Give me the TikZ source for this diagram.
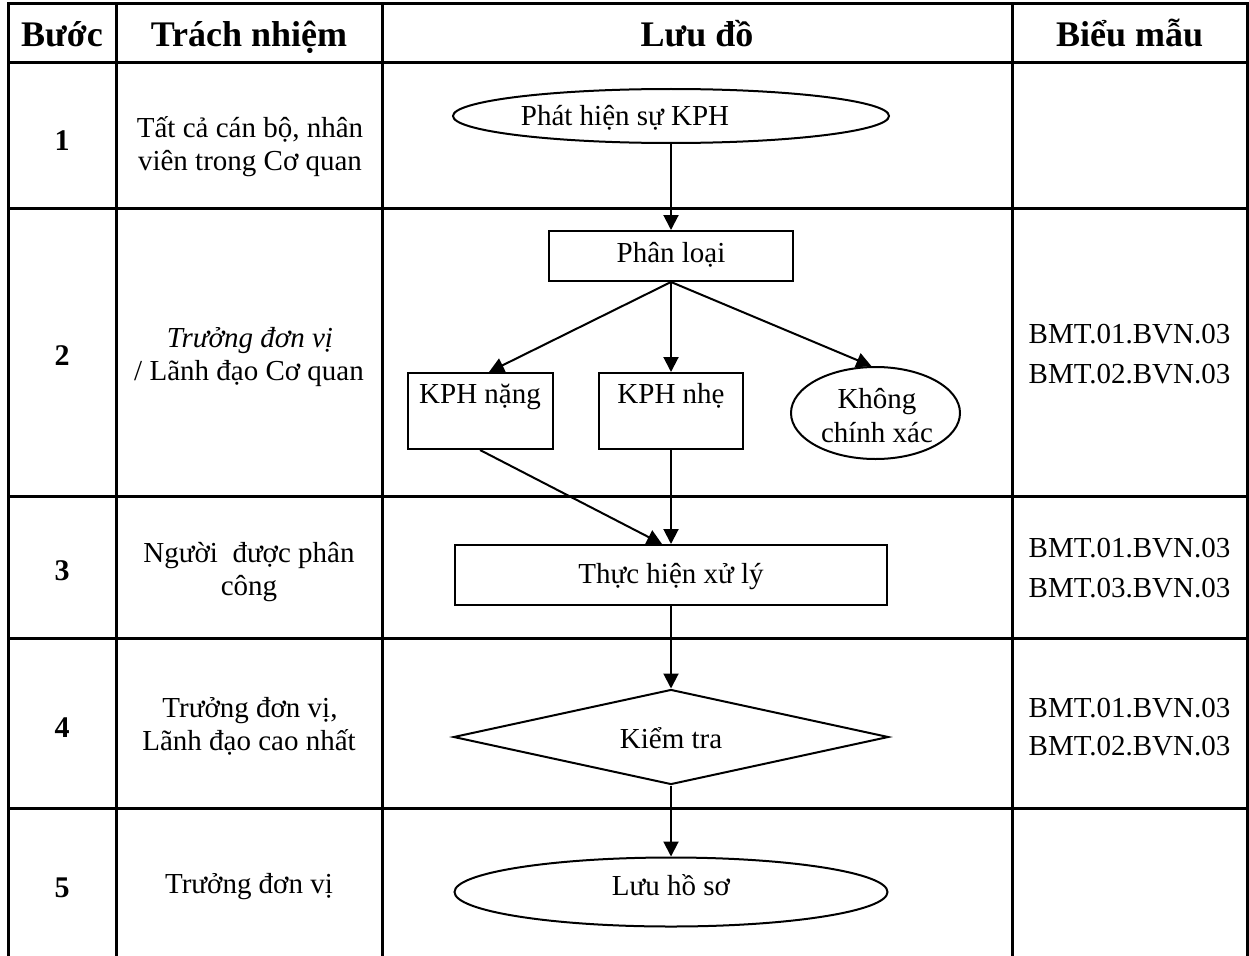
\documentclass[tikz,border=0pt]{standalone}
\usepackage{fontspec}
\setmainfont{Liberation Serif}
\usetikzlibrary{shapes.geometric,arrows.meta,calc}
\begin{document}
\begin{tikzpicture}[x=1pt,y=-1pt,
  tline/.style={line width=3pt},
  shp/.style={draw, line width=2pt, inner sep=0pt},
  arr/.style={line width=2pt, -{Triangle[length=15pt,width=15pt]}},
  txt/.style={font=\fontsize{29}{33}\selectfont, inner sep=0pt, anchor=base},
  hd/.style={font=\fontsize{36}{40}\selectfont\bfseries, inner sep=0pt, anchor=base},
  num/.style={font=\fontsize{30}{34}\selectfont\bfseries, inner sep=0pt, anchor=base}]
\useasboundingbox (0,0) rectangle (1249,955);
\fill[white] (0,0) rectangle (1249,955);
% table
\draw[tline, line join=miter] (8,960) -- (8,4) -- (1247,4) -- (1247,960);
\foreach \yy in {63,208,496,638,808} \draw[tline] (8,\yy) -- (1247,\yy);
\foreach \xx in {116,382,1012} \draw[tline] (\xx,4) -- (\xx,960);
% headers
\node[hd] (h1) at (62,47) {Bước};
\node[hd] (h2) at (249,47) {Trách nhiệm};
\node[hd] (h3) at (697,47) {Lưu đồ};
\node[hd] (h4) at (1129.5,47) {Biểu mẫu};
% step numbers
\node[num] (n1) at (62,150) {1};
\node[num] (n2) at (62,365) {2};
\node[num] (n3) at (62,580) {3};
\node[num] (n4) at (62,737) {4};
\node[num] (n5) at (62,897) {5};
% responsibility
\node[txt] (r1a) at (250,137) {Tất cả cán bộ, nhân};
\node[txt] (r1b) at (250,170) {viên trong Cơ quan};
\node[txt] (r2a) at (250,347) {\itshape Trưởng đơn vị};
\node[txt] (r2b) at (249,380) {/ Lãnh đạo Cơ quan};
\node[txt] (r3a) at (249,562) {Người\ \ được phân};
\node[txt] (r3b) at (249,595) {công};
\node[txt] (r4a) at (250,717) {Trưởng đơn vị,};
\node[txt] (r4b) at (249,750) {Lãnh đạo cao nhất};
\node[txt] (r5a) at (249,893) {Trưởng đơn vị};
% forms
\node[txt] (f2a) at (1129.5,343) {BMT.01.BVN.03};
\node[txt] (f2b) at (1129.5,383) {BMT.02.BVN.03};
\node[txt] (f3a) at (1129.5,557) {BMT.01.BVN.03};
\node[txt] (f3b) at (1129.5,597) {BMT.03.BVN.03};
\node[txt] (f4a) at (1129.5,717) {BMT.01.BVN.03};
\node[txt] (f4b) at (1129.5,755) {BMT.02.BVN.03};
% flowchart shapes
\node[shp, ellipse, minimum width=436pt, minimum height=54pt] (e1) at (671,116) {};
\node[txt] (e1t) at (625,125) {Phát hiện sự KPH};
\node[shp, rectangle, minimum width=244pt, minimum height=50pt] (pl) at (671,256) {};
\node[txt] (plt) at (671,262) {Phân loại};
\node[shp, rectangle, minimum width=145pt, minimum height=76pt] (nang) at (480,411) {};
\node[txt] (nangt) at (480,403) {KPH nặng};
\node[shp, rectangle, minimum width=144pt, minimum height=76pt] (nhe) at (671,411) {};
\node[txt] (nhet) at (671,403) {KPH nhẹ};
\node[shp, ellipse, minimum width=169pt, minimum height=92pt] (kcx) at (875.5,413) {};
\node[txt] (kcxa) at (877,408) {Không};
\node[txt] (kcxb) at (877,442) {chính xác};
\node[shp, rectangle, minimum width=432pt, minimum height=60pt] (th) at (671,575) {};
\node[txt] (tht) at (671,583) {Thực hiện xử lý};
\node[shp, diamond, minimum width=435pt, minimum height=95pt] (kt) at (671,737) {};
\node[txt] (ktt) at (671,748) {Kiểm tra};
\node[shp, ellipse, minimum width=433pt, minimum height=69pt] (lhs) at (671,892) {};
\node[txt] (lhst) at (671,895) {Lưu hồ sơ};
% connectors
\draw[arr] (e1.south) -- (pl.north);
\draw[arr] (pl.south) -- ($(nang.north)+(9,0)$);
\draw[arr] (pl.south) -- (nhe.north);
\draw[arr] (pl.south) -- (kcx.95);
\draw[arr] (nang.south) -- ($(th.north)+(-9,0)$);
\draw[arr] (nhe.south) -- (th.north);
\draw[arr] (th.south) -- (kt.north);
\draw[arr] (kt.south) -- (lhs.north);
\end{tikzpicture}
\end{document}
